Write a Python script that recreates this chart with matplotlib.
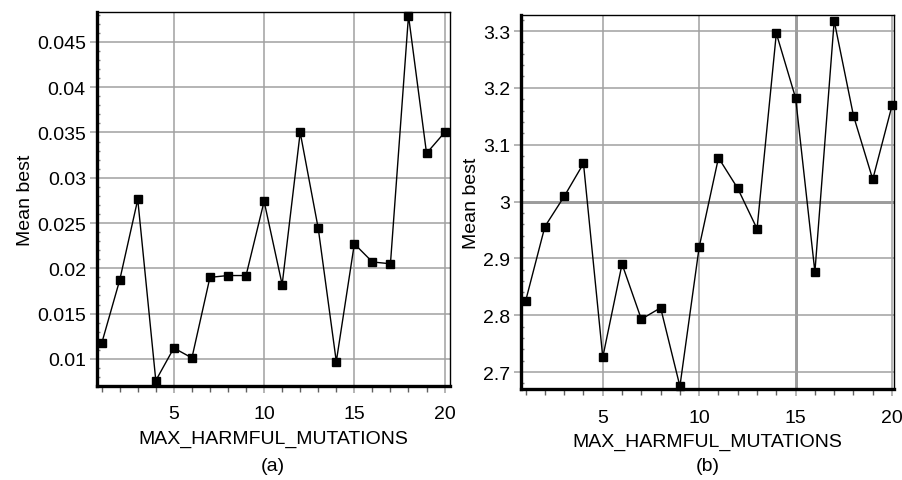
import matplotlib
matplotlib.use("Agg")
import matplotlib.pyplot as plt
from matplotlib.ticker import MultipleLocator

plt.rcParams['font.family'] = ['Liberation Sans', 'DejaVu Sans']

x_vals = list(range(1, 21))
mean_best_a = [0.0117, 0.0187, 0.0276, 0.0076, 0.0112, 0.0101, 0.0190, 0.0192, 0.0192, 0.0274,
               0.0182, 0.0350, 0.0244, 0.0097, 0.0227, 0.0207, 0.0205, 0.0479, 0.0327, 0.0350]
mean_best_b = [2.825, 2.956, 3.009, 3.067, 2.726, 2.890, 2.793, 2.813, 2.675, 2.920,
               3.077, 3.023, 2.952, 3.296, 3.182, 2.876, 3.318, 3.151, 3.039, 3.169]

x_label = "MAX_HARMFUL_MUTATIONS"
y_label = "Mean best"
panel_labels = ["(a)", "(b)"]
x_ticks = [5, 10, 15, 20]
y_ticks_a = [0.01, 0.015, 0.02, 0.025, 0.03, 0.035, 0.04, 0.045]
y_tick_labels_a = ["0.01", "0.015", "0.02", "0.025", "0.03", "0.035", "0.04", "0.045"]
y_ticks_b = [2.7, 2.8, 2.9, 3.0, 3.1, 3.2, 3.3]
y_tick_labels_b = ["2.7", "2.8", "2.9", "3", "3.1", "3.2", "3.3"]

fig = plt.figure(figsize=(9.02, 4.81), dpi=100)
ax_a = fig.add_axes([0.1075, 0.1954, 0.391, 0.7775])
ax_b = fig.add_axes([0.5776, 0.189, 0.4135, 0.7775])

grid_c = '#a0a0a0'
FS = 14

def style(ax, yt, ytl, ylim, xlim, yminor, thick_y=None, thick_x=None):
    ax.set_xlim(*xlim)
    ax.set_ylim(*ylim)
    ax.set_xticks(x_ticks)
    ax.set_xticklabels([str(t) for t in x_ticks], fontsize=FS)
    ax.set_yticks(yt)
    ax.set_yticklabels(ytl, fontsize=FS)
    ax.xaxis.set_minor_locator(MultipleLocator(1))
    ax.yaxis.set_minor_locator(MultipleLocator(yminor))
    ax.grid(True, which='major', color=grid_c, linewidth=1.1, zorder=0)
    if thick_y is not None:
        ax.axhline(thick_y, color='#909090', linewidth=2.0, zorder=0.5)
    if thick_x is not None:
        ax.axvline(thick_x, color='#909090', linewidth=2.0, zorder=0.5)
    ax.tick_params(which='major', direction='out', length=5, width=1.1, color=grid_c,
                   labelsize=FS)
    ax.tick_params(axis='x', which='major', pad=9)
    ax.tick_params(axis='y', which='major', pad=3)
    ax.tick_params(which='minor', direction='out', length=4, width=1.0, color='#606060')
    ax.tick_params(axis='y', which='minor', direction='in', length=2, width=1.0, color='#808080')
    ax.spines['left'].set_linewidth(2.4)
    ax.spines['bottom'].set_linewidth(2.4)
    ax.spines['top'].set_linewidth(1.0)
    ax.spines['right'].set_linewidth(1.0)
    for s in ax.spines.values():
        s.set_color('black')
    ax.set_axisbelow(True)

ax_a.plot(x_vals, mean_best_a, color='black', linewidth=1.0, marker='s', markersize=6,
          markerfacecolor='black', markeredgecolor='black', clip_on=False, zorder=3)
ax_b.plot(x_vals, mean_best_b, color='black', linewidth=1.0, marker='s', markersize=6,
          markerfacecolor='black', markeredgecolor='black', clip_on=False, zorder=3)

style(ax_a, y_ticks_a, y_tick_labels_a, (0.0070, 0.0483), (0.74, 20.28), 0.001)
style(ax_b, y_ticks_b, y_tick_labels_b, (2.670, 3.328), (0.76, 20.1), 0.02,
      thick_y=3.0, thick_x=15)

for ax, pl in zip([ax_a, ax_b], panel_labels):
    ax.set_xlabel(x_label, fontsize=FS, labelpad=5)
    ax.set_ylabel(y_label, fontsize=FS, labelpad=2)
    pos = ax.get_position()
    fig.text(pos.x0 + pos.width / 2, 0.030, pl, ha='center', va='center', fontsize=FS)

fig.savefig("out.png", dpi=100)
